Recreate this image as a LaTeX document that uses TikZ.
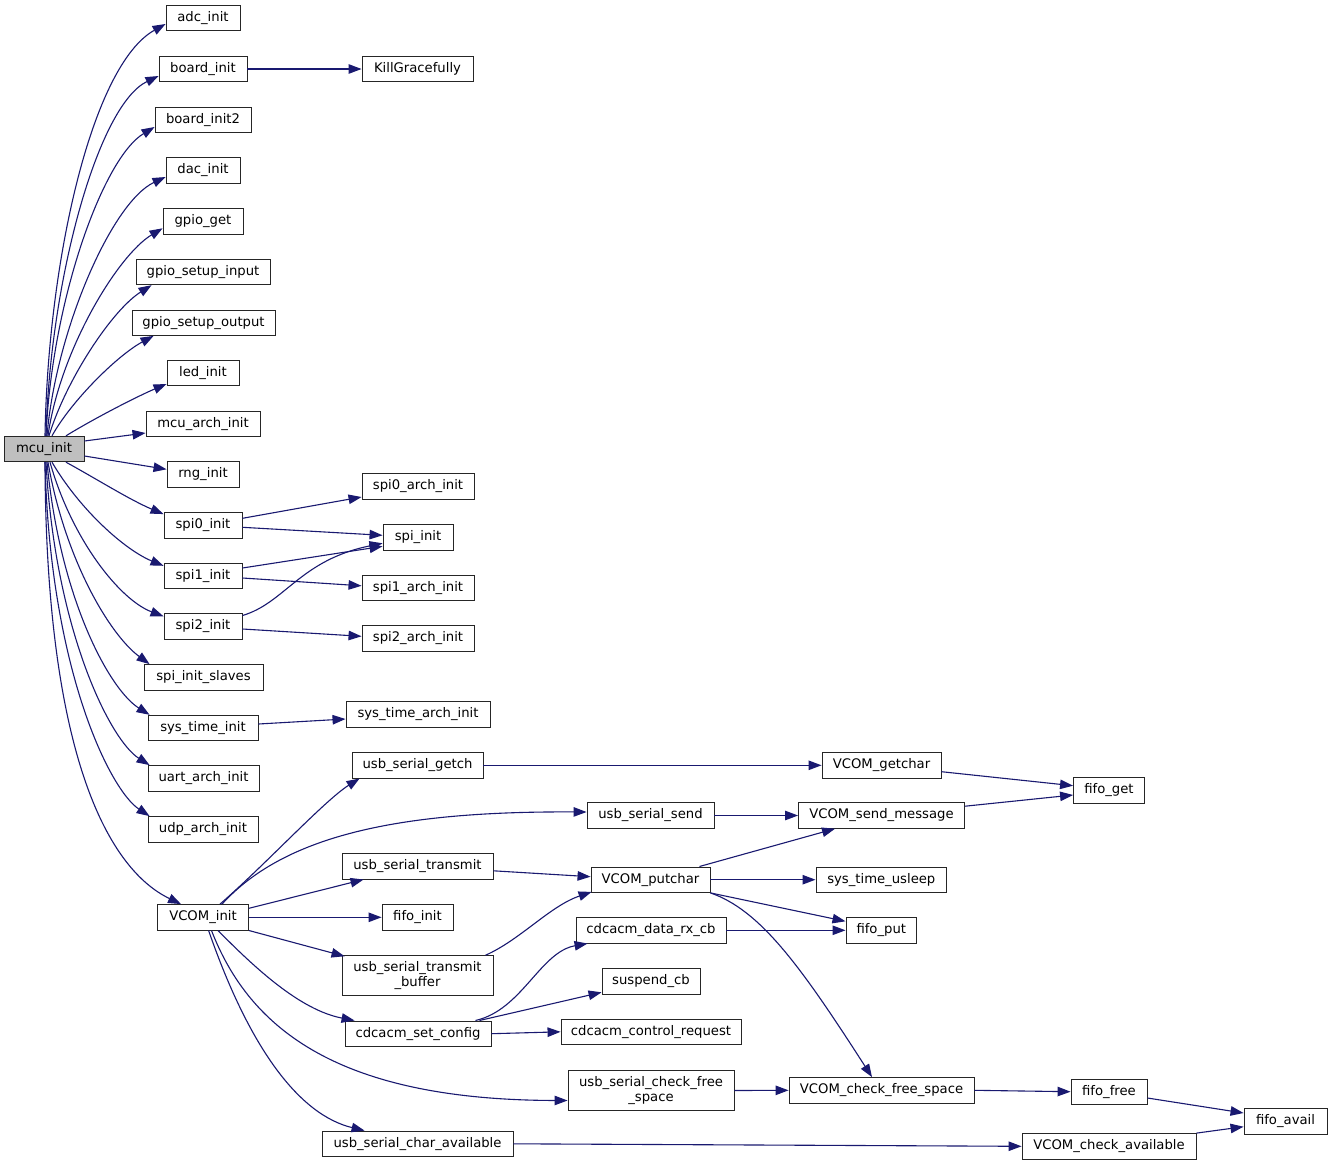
\documentclass[tikz,border=0pt]{standalone}
\usepackage{fontspec}
\setmainfont{DejaVu Sans}
\usetikzlibrary{arrows.meta,calc}
\definecolor{edgec}{HTML}{191970}
\definecolor{rootfill}{HTML}{BFBFBF}
\tikzset{
  fn/.style={draw=black!85, line width=0.9pt, fill=white, inner sep=0pt,
    font=\fontsize{13.2}{14.7}\selectfont, align=center, minimum height=25.5pt},
  rootfn/.style={fn, fill=rootfill},
  call/.style={draw=edgec, line width=1.1pt, -{Triangle[length=13pt,width=9.5pt]}},
}
\begin{document}
\begin{tikzpicture}[x=1pt,y=-1pt]
\useasboundingbox[fill=white] (0,0) rectangle (1333,1165);
% column 1
\node[rootfn, minimum width=80pt] (mcu) at (44,449) {mcu\_init};
\node[fn, minimum width=74pt] (adc) at (203,18) {adc\_init};
\node[fn, minimum width=88pt] (board) at (203,69) {board\_init};
\node[fn, minimum width=111pt] (kill) at (417.5,69) {KillGracefully};
\node[fn, minimum width=96pt] (board2) at (203,120) {board\_init2};
\node[fn, minimum width=74pt] (dac) at (203,170.5) {dac\_init};
\node[fn, minimum width=80pt] (gget) at (203,221.3) {gpio\_get};
\node[fn, minimum width=134pt] (gsi) at (203,272) {gpio\_setup\_input};
\node[fn, minimum width=143pt] (gso) at (203.5,322.7) {gpio\_setup\_output};
\node[fn, minimum width=72pt] (led) at (203,373) {led\_init};
\node[fn, minimum width=114pt] (march) at (203,424) {mcu\_arch\_init};
\node[fn, minimum width=72pt] (rng) at (203,474.3) {rng\_init};
\node[fn, minimum width=78pt] (spi0) at (203,525.3) {spi0\_init};
\node[fn, minimum width=78pt] (spi1) at (203,576) {spi1\_init};
\node[fn, minimum width=78pt] (spi2) at (203,626.5) {spi2\_init};
\node[fn, minimum width=119pt] (sis) at (203.5,677.3) {spi\_init\_slaves};
\node[fn, minimum width=110pt] (sti) at (203,728) {sys\_time\_init};
\node[fn, minimum width=111pt] (uart) at (203.5,778.3) {uart\_arch\_init};
\node[fn, minimum width=110pt] (udp) at (203,829.3) {udp\_arch\_init};
\node[fn, minimum width=91pt] (vinit) at (203,917.3) {VCOM\_init};
% column 2
\node[fn, minimum width=112pt] (s0a) at (418,486.5) {spi0\_arch\_init};
\node[fn, minimum width=70pt] (spiinit) at (418,537.3) {spi\_init};
\node[fn, minimum width=112pt] (s1a) at (418,587.8) {spi1\_arch\_init};
\node[fn, minimum width=112pt] (s2a) at (418,638.3) {spi2\_arch\_init};
\node[fn, minimum width=144pt] (sta) at (418,714.5) {sys\_time\_arch\_init};
\node[fn, minimum width=131pt] (usg) at (417.5,765.3) {usb\_serial\_getch};
\node[fn, minimum width=151pt] (ust) at (417.5,866.3) {usb\_serial\_transmit};
\node[fn, minimum width=71pt] (finit) at (417.5,917.3) {fifo\_init};
\node[fn, minimum width=151pt, minimum height=40pt] (ustb) at (417.5,975.7) {usb\_serial\_transmit\\\_buffer};
\node[fn, minimum width=146pt] (csc) at (418,1033.7) {cdcacm\_set\_config};
\node[fn, minimum width=191pt] (usca) at (417.5,1143.8) {usb\_serial\_char\_available};
% column 3
\node[fn, minimum width=127pt] (uss) at (650.5,815.5) {usb\_serial\_send};
\node[fn, minimum width=119pt] (vput) at (650.5,879.7) {VCOM\_putchar};
\node[fn, minimum width=150pt] (cdrx) at (651,930.3) {cdcacm\_data\_rx\_cb};
\node[fn, minimum width=98pt] (susp) at (651,981.3) {suspend\_cb};
\node[fn, minimum width=180pt] (ccr) at (651,1031.8) {cdcacm\_control\_request};
\node[fn, minimum width=166pt, minimum height=40pt] (uscfs) at (651,1090.5) {usb\_serial\_check\_free\\\_space};
% column 4
\node[fn, minimum width=119pt] (vgc) at (881.5,765.3) {VCOM\_getchar};
\node[fn, minimum width=166pt] (vsm) at (881.5,815.5) {VCOM\_send\_message};
\node[fn, minimum width=130.7pt] (stu) at (881.3,879.7) {sys\_time\_usleep};
\node[fn, minimum width=70.7pt] (fput) at (881.3,930.3) {fifo\_put};
\node[fn, minimum width=185pt] (vcfs) at (881.5,1090.3) {VCOM\_check\_free\_space};
% column 5/6
\node[fn, minimum width=71pt] (fget) at (1109,790.3) {fifo\_get};
\node[fn, minimum width=76pt] (ffree) at (1109,1091.7) {fifo\_free};
\node[fn, minimum width=174pt] (vca) at (1109,1146.3) {VCOM\_check\_available};
\node[fn, minimum width=83pt] (favail) at (1285.5,1121.3) {fifo\_avail};

% edges from mcu_init
\draw[call] ($(mcu.north)+(1,0)$) .. controls (48,260) and (92,65) .. ($(adc.west)+(0,6)$);
\draw[call] ($(mcu.north)+(2,0)$) .. controls (50,280) and (98,105) .. ($(board.west)+(0,7)$);
\draw[call] ($(mcu.north)+(2,0)$) .. controls (52,300) and (103,158) .. ($(board2.west)+(0,7)$);
\draw[call] ($(mcu.north)+(3,0)$) .. controls (56,330) and (112,202) .. ($(dac.west)+(0,6.5)$);
\draw[call] ($(mcu.north)+(4,0)$) .. controls (60,350) and (118,255) .. ($(gget.west)+(0,7)$);
\draw[call] ($(mcu.north)+(5,0)$) .. controls (66,380) and (112,310) .. ($(gsi.south west)+(16,0)$);
\draw[call] ($(mcu.north)+(8,0)$) .. controls (72,400) and (118,355) .. ($(gso.south west)+(22,0)$);
\draw[call] ($(mcu.north)+(22,0)$) .. controls (95,418) and (138,396) .. ($(led.west)+(0,11)$);
\draw[call] ($(mcu.east)+(0,-8)$) -- ($(march.west)+(0,9)$);
\draw[call] ($(mcu.east)+(0,7)$) -- ($(rng.west)+(0,-5)$);
\draw[call] ($(mcu.south)+(22,0)$) .. controls (95,478) and (130,500) .. ($(spi0.north west)+(0,2)$);
\draw[call] ($(mcu.south)+(8,0)$) .. controls (80,510) and (125,550) .. ($(spi1.north west)+(0,3)$);
\draw[call] ($(mcu.south)+(6,0)$) .. controls (72,540) and (120,600) .. ($(spi2.north west)+(0,3)$);
\draw[call] ($(mcu.south)+(4,0)$) .. controls (65,560) and (110,635) .. ($(sis.north west)+(6,0)$);
\draw[call] ($(mcu.south)+(3,0)$) .. controls (60,600) and (110,690) .. ($(sti.north west)+(2,0)$);
\draw[call] ($(mcu.south)+(2,0)$) .. controls (55,630) and (110,740) .. ($(uart.north west)+(2,0)$);
\draw[call] ($(mcu.south)+(1,0)$) .. controls (50,670) and (110,790) .. ($(udp.north west)+(2,0)$);
\draw[call] ($(mcu.south)+(1,0)$) .. controls (46,760) and (110,870) .. ($(vinit.north west)+(24,0)$);

% second level
\draw[call] (board.east) -- (kill.west);
\draw[call] ($(spi0.east)+(0,-7)$) -- ($(s0a.west)+(0,10.5)$);
\draw[call] ($(spi0.east)+(0,2)$) -- ($(spiinit.west)+(0,-2)$);
\draw[call] ($(spi1.east)+(0,-8)$) -- ($(spiinit.west)+(0,9)$);
\draw[call] ($(spi1.east)+(0,2)$) -- ($(s1a.west)+(0,-2)$);
\draw[call] ($(spi2.east)+(0,-11)$) .. controls (285,603) and (300,560) .. ($(spiinit.west)+(0,6)$);
\draw[call] ($(spi2.east)+(0,2.5)$) -- ($(s2a.west)+(0,-2)$);
\draw[call] ($(sti.east)+(0,-4)$) -- ($(sta.west)+(0,4.5)$);

% from VCOM_init
\draw[call] ($(vinit.north)+(17,0)$) .. controls (265,865) and (325,800) .. ($(usg.south west)+(8,0)$);
\draw[call] ($(vinit.north)+(19,0)$) .. controls (285,835) and (400,811) .. ($(uss.west)+(0,-3.5)$);
\draw[call] ($(vinit.east)+(0,-9)$) -- ($(ust.south west)+(22,0)$);
\draw[call] (vinit.east) -- (finit.west);
\draw[call] (vinit.south east) -- ($(ustb.north west)+(3,1)$);
\draw[call] ($(vinit.south)+(15,0)$) .. controls (255,968) and (300,1010) .. ($(csc.north west)+(10,0)$);
\draw[call] ($(vinit.south)+(8.5,0)$) .. controls (250,1030) and (340,1100) .. ($(uscfs.west)+(0,10)$);
\draw[call] ($(vinit.south)+(5.6,0)$) .. controls (250,1050) and (300,1115) .. ($(usca.north west)+(43,0)$);

% third level
\draw[call] (usg.east) -- (vgc.west);
\draw[call] (uss.east) -- (vsm.west);
\draw[call] ($(ust.east)+(0,4.5)$) -- ($(vput.west)+(0,-3)$);
\draw[call] ($(ustb.north east)+(-8,0)$) .. controls (520,940) and (550,906) .. ($(vput.south west)+(1,-1)$);
\draw[call] ($(vput.north east)+(-11,0)$) -- ($(vsm.south west)+(37,0)$);
\draw[call] (vput.east) -- (stu.west);
\draw[call] (vput.south east) -- ($(fput.west)+(0,-9)$);
\draw[call] (vput.south east) .. controls (760,910) and (800,965) .. ($(vcfs.north)+(-9.5,0)$);
\draw[call] (cdrx.east) -- (fput.west);
\draw[call] ($(csc.north east)+(-16,0)$) .. controls (522,1010) and (540,952) .. ($(cdrx.south west)+(12,0)$);
\draw[call] ($(csc.north east)+(-12,0)$) -- ($(susp.west)+(0,11)$);
\draw[call] (csc.east) -- (ccr.west);
\draw[call] (uscfs.east) -- (vcfs.west);
\draw[call] (vcfs.east) -- (ffree.west);
\draw[call] ($(vgc.east)+(0,6.4)$) -- ($(fget.west)+(0,-4.6)$);
\draw[call] ($(vsm.east)+(0,-9.3)$) -- ($(fget.west)+(0,4.7)$);
\draw[call] ($(ffree.east)+(0,6.3)$) -- ($(favail.west)+(0,-8.3)$);
\draw[call] (vca.north east) -- ($(favail.west)+(0,5.4)$);
\draw[call] (usca.east) -- (vca.west);
\end{tikzpicture}
\end{document}
